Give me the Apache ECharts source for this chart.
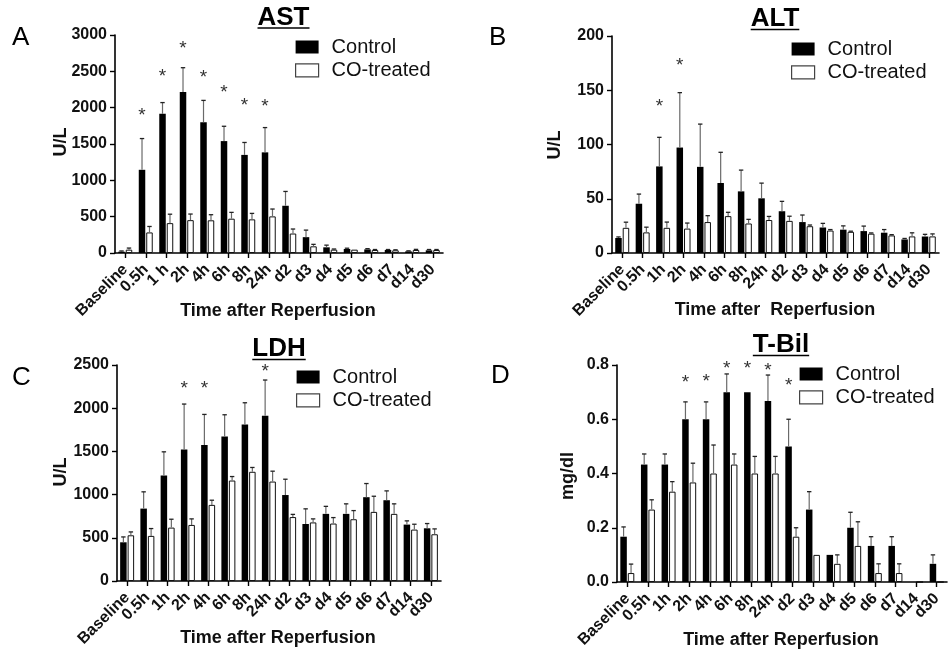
<!DOCTYPE html>
<html><head><meta charset="utf-8">
<script src="https://cdn.jsdelivr.net/npm/echarts@6/dist/echarts.min.js"></script>
<style>html,body{margin:0;padding:0;background:#fff}#c{width:948px;height:657px}</style>
</head><body><div id="c"></div>
<script>
// ---------- DATA ----------
const catsAST = ['Baseline','0.5h','1 h','2h','4h','6h','8h','24h','d2','d3','d4','d5','d6','d7','d14','d30'];
const cats    = ['Baseline','0.5h','1h','2h','4h','6h','8h','24h','d2','d3','d4','d5','d6','d7','d14','d30'];
const seriesNames = ['Control','CO-treated'];

// AST (U/L): mean and mean+error
const astControl      = [18,1145,1915,2215,1800,1540,1350,1385,650,218,78,55,50,41,23,37];
const astControlUpper = [28,1575,2070,2550,2100,1744,1521,1726,847,315,108,66,60,48,30,48];
const astCO           = [46,283,411,452,450,472,463,504,268,92,46,46,41,37,41,41];
const astCOUpper      = [68,365,534,536,527,559,545,605,330,119,55,52,48,44,50,48];
const astStars        = [null,1937,2482,2862,2460,2262,2075,2065,null,null,null,null,null,null,null,null];

// ALT (U/L)
const altControl      = [13.8,45.4,79.8,97.2,79.4,64.5,56.8,50.4,38.5,28.5,23.5,21.5,20.2,18.7,12.5,15.2];
const altControlUpper = [14.8,54.3,106.6,147.8,118.8,92.8,76.4,64.4,47.6,35,27.3,25,24.8,21.6,13.4,17.2];
const altCO           = [23.2,19,23.2,22.5,28.5,34,27.2,30.4,29.6,24.7,20.7,19.5,17.8,16.2,15.3,15.3];
const altCOUpper      = [28.4,23.8,28.5,27.6,34.4,37.5,31,33.7,33.9,25.8,21.6,20.1,18.5,16.9,18.6,17.6];
const altStars        = [null,null,138.6,175.8,null,null,null,null,null,null,null,null,null,null,null,null];

// LDH (U/L)
const ldhControl      = [448,838,1221,1522,1573,1673,1812,1913,995,660,777,777,970,935,653,610];
const ldhControlUpper = [510,1032,1495,2048,1928,1924,2063,2326,1178,835,864,893,1128,1043,696,665];
const ldhCO           = [529,522,618,649,881,1163,1264,1151,740,678,665,715,800,777,595,541];
const ldhCOUpper      = [568,607,715,719,935,1209,1314,1271,771,719,734,815,981,893,657,603];
const ldhStars        = [null,null,null,2276,2276,null,null,2473,null,null,null,null,null,null,null,null];

// T-Bil (mg/dl)
const tbilControl      = [0.167,0.433,0.433,0.6,0.6,0.7,0.7,0.667,0.5,0.267,0.1,0.2,0.133,0.133,0,0.067];
const tbilControlUpper = [0.203,0.472,0.472,0.664,0.664,0.767,0.7,0.763,0.6,0.333,0.1,0.257,0.167,0.167,0,0.1];
const tbilCO           = [0.033,0.267,0.333,0.367,0.4,0.433,0.4,0.4,0.167,0.1,0.067,0.133,0.033,0.033,0,0];
const tbilCOUpper      = [0.066,0.303,0.37,0.438,0.505,0.472,0.463,0.463,0.2,0.1,0.1,0.222,0.067,0.067,0,0];
const tbilStars        = [null,null,null,0.748,0.752,0.80,0.80,0.795,0.738,null,null,null,null,null,null,null];

const yTicks = {ast:[0,3000,500], alt:[0,200,50], ldh:[0,2500,500], tbil:[0,0.8,0.2]};

// ---------- LAYOUT ----------
const FONT = '"Liberation Sans", Arial, Helvetica, sans-serif';
const BAR_W = 6.5, BAR_GAP = 0.15;
const DX = BAR_W * (1 + BAR_GAP) / 2;

const panels = [
  {key:'ast', cats:catsAST, c:astControl, cu:astControlUpper, o:astCO, ou:astCOUpper, stars:astStars,
   grid:{left:115, top:35, width:328, height:218}, title:'AST', tx:283.5, ty:18, ul:28,
   letter:'A', lx:12, ly:38, yname:'U/L', ynx:61.5, yny:142, xname:'Time after Reperfusion', xnx:278, xny:311,
   legend:{left:295, top:37}, fmt:null},
  {key:'alt', cats:cats, c:altControl, cu:altControlUpper, o:altCO, ou:altCOUpper, stars:altStars,
   grid:{left:612, top:36, width:327, height:217}, title:'ALT', tx:775, ty:19, ul:29.5,
   letter:'B', lx:489, ly:38, yname:'U/L', ynx:555.5, yny:145, xname:'Time after  Reperfusion', xnx:775, xny:310,
   legend:{left:791, top:39}, fmt:null},
  {key:'ldh', cats:cats, c:ldhControl, cu:ldhControlUpper, o:ldhCO, ou:ldhCOUpper, stars:ldhStars,
   grid:{left:117, top:365, width:324, height:216}, title:'LDH', tx:279, ty:349, ul:359.5,
   letter:'C', lx:12, ly:377.5, yname:'U/L', ynx:61.5, yny:472, xname:'Time after Reperfusion', xnx:278, xny:638.5,
   legend:{left:296, top:367}, fmt:null},
  {key:'tbil', cats:cats, c:tbilControl, cu:tbilControlUpper, o:tbilCO, ou:tbilCOUpper, stars:tbilStars,
   grid:{left:617, top:365, width:330, height:217}, title:'T-Bil', tx:781, ty:345, ul:355.5,
   letter:'D', lx:491, ly:375.5, yname:'mg/dl', ynx:568, yny:476, xname:'Time after Reperfusion', xnx:781, xny:640,
   legend:{left:799, top:364}, fmt:v => v.toFixed(1)}
];

const measure = (() => {
  const cv = document.createElement('canvas').getContext('2d');
  return (t, f) => { cv.font = f; return cv.measureText(t).width; };
})();

const grids = [], xAxes = [], yAxes = [], series = [], legends = [], graphics = [];

function errSeries(gi, vals, uppers, dx) {
  return {
    type:'custom', xAxisIndex:gi, yAxisIndex:gi, z:5, silent:true,
    data: vals.map((v,i)=>[i, v, uppers[i]]),
    renderItem(params, api) {
      const i = api.value(0);
      const lo = api.coord([i, api.value(1)]);
      const hi = api.coord([i, api.value(2)]);
      if (hi[1] >= lo[1] - 0.5) return null;
      const x = lo[0] + dx;
      return {type:'group', children:[
        {type:'line', shape:{x1:x, y1:lo[1], x2:x, y2:hi[1]}, style:{stroke:'#6a6a6a', lineWidth:1.2}},
        {type:'line', shape:{x1:x-2.2, y1:hi[1], x2:x+2.2, y2:hi[1]}, style:{stroke:'#222', lineWidth:1.3}}
      ]};
    }
  };
}

function starSeries(gi, stars, dx) {
  return {
    type:'custom', xAxisIndex:gi, yAxisIndex:gi, z:6, silent:true,
    data: stars.map((v,i)=>[i, v]).filter(d => d[1] != null),
    renderItem(params, api) {
      const p = api.coord([api.value(0), api.value(1)]);
      return {type:'text', x:p[0]+dx, y:p[1]+4,
        style:{text:'*', fontSize:19, fontFamily:FONT, fill:'#333', align:'center', verticalAlign:'middle'}};
    }
  };
}

panels.forEach((p, gi) => {
  grids.push(Object.assign({containLabel:false}, p.grid));
  xAxes.push({
    type:'category', gridIndex:gi, data:p.cats, boundaryGap:true,
    axisLine:{show:true, lineStyle:{color:'#000', width:1.6}},
    axisTick:{show:true, alignWithLabel:true, length:5, lineStyle:{color:'#000', width:1.4}},
    axisLabel:{interval:0, rotate:45, margin:14, fontSize:16, fontWeight:'bold', fontFamily:FONT, color:'#111'},
    splitLine:{show:false}
  });
  const [mn, mx, iv] = yTicks[p.key];
  yAxes.push({
    type:'value', gridIndex:gi, min:mn, max:mx, interval:iv,
    axisLine:{show:true, lineStyle:{color:'#000', width:1.6}},
    axisTick:{show:true, length:5, lineStyle:{color:'#000', width:1.4}},
    axisLabel:{margin:8, fontSize:16, fontWeight:'bold', fontFamily:FONT, color:'#111',
               formatter: p.fmt || (v => String(v))},
    splitLine:{show:false}
  });
  series.push({
    name:seriesNames[0], type:'bar', xAxisIndex:gi, yAxisIndex:gi, data:p.c,
    barWidth:BAR_W, barGap:(BAR_GAP*100)+'%', itemStyle:{color:'#000'}, silent:true
  });
  series.push({
    name:seriesNames[1], type:'bar', xAxisIndex:gi, yAxisIndex:gi, data:p.o,
    barWidth:BAR_W, barGap:(BAR_GAP*100)+'%', itemStyle:{color:'#fff', borderColor:'#111', borderWidth:1}, silent:true
  });
  series.push(errSeries(gi, p.c, p.cu, -DX));
  series.push(errSeries(gi, p.o, p.ou, DX));
  series.push(starSeries(gi, p.stars, -DX));

  legends.push({
    left:p.legend.left, top:p.legend.top, orient:'vertical', padding:0, itemGap:3.4,
    itemWidth:23, itemHeight:13, selectedMode:false,
    textStyle:{fontSize:20, fontFamily:FONT, color:'#111', lineHeight:20, padding:[0,0,0,8]},
    data:[
      {name:seriesNames[0], icon:'rect', itemStyle:{color:'#000', borderWidth:0}},
      {name:seriesNames[1], icon:'rect', itemStyle:{color:'#fff', borderColor:'#444', borderWidth:1.2}}
    ]
  });

  const tFont = 'bold 26px ' + FONT;
  const tw = measure(p.title, tFont);
  graphics.push({type:'text', x:p.tx, y:p.ty, style:{text:p.title, fontSize:26, fontWeight:'bold', fontFamily:FONT, fill:'#000', align:'center', verticalAlign:'middle'}});
  graphics.push({type:'line', shape:{x1:p.tx - tw/2, y1:p.ul, x2:p.tx + tw/2, y2:p.ul}, style:{stroke:'#000', lineWidth:1.6}});
  graphics.push({type:'text', x:p.lx, y:p.ly, style:{text:p.letter, fontSize:26, fontFamily:FONT, fill:'#000', align:'left', verticalAlign:'middle'}});
  graphics.push({type:'text', x:p.ynx, y:p.yny, rotation:Math.PI/2, style:{text:p.yname, fontSize:18, fontWeight:'bold', fontFamily:FONT, fill:'#111', align:'center', verticalAlign:'middle'}});
  graphics.push({type:'text', x:p.xnx, y:p.xny, style:{text:p.xname, fontSize:18, fontWeight:'bold', fontFamily:FONT, fill:'#111', align:'center', verticalAlign:'middle'}});
});

const chart = echarts.init(document.getElementById('c'), null, {renderer:'canvas'});
chart.setOption({
  backgroundColor:'#fff', animation:false,
  grid:grids, xAxis:xAxes, yAxis:yAxes, series:series, legend:legends,
  graphic:{elements:graphics}
});
</script>
</body></html>
